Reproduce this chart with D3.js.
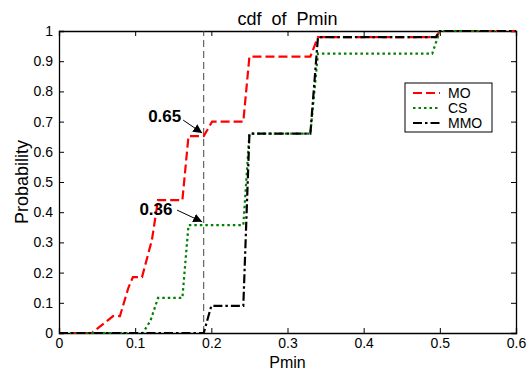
<!DOCTYPE html>
<html>
<head>
<meta charset="utf-8">
<script src="https://cdn.jsdelivr.net/npm/d3@7"></script>
<style>
  body { margin: 0; background: #fff; }
  text { font-family: "Liberation Sans", Arial, sans-serif; }
</style>
</head>
<body>
<svg id="chart"></svg>
<script>
// data
const moX = [0, 0.043, 0.071, 0.08, 0.091, 0.097, 0.109, 0.122, 0.13, 0.162, 0.17, 0.19, 0.201, 0.242, 0.25, 0.33, 0.34, 0.495, 0.5, 0.6];
const moY = [0, 0, 0.056, 0.056, 0.149, 0.185, 0.185, 0.308, 0.44, 0.44, 0.652, 0.652, 0.70, 0.70, 0.915, 0.915, 0.98, 0.98, 1, 1];
const csX = [0, 0.11, 0.12, 0.13, 0.162, 0.17, 0.242, 0.25, 0.33, 0.34, 0.49, 0.5, 0.6];
const csY = [0, 0, 0.04, 0.116, 0.116, 0.357, 0.357, 0.66, 0.66, 0.925, 0.925, 1, 1];
const mmoX = [0, 0.19, 0.2, 0.242, 0.25, 0.33, 0.34, 0.495, 0.5, 0.6];
const mmoY = [0, 0, 0.09, 0.09, 0.66, 0.66, 0.98, 0.98, 1, 1];
const seriesNames = ["MO", "CS", "MMO"];
const xTicks = [0, 0.1, 0.2, 0.3, 0.4, 0.5, 0.6];
const yTicks = [0, 0.1, 0.2, 0.3, 0.4, 0.5, 0.6, 0.7, 0.8, 0.9, 1];
const markX = 0.19;
const notes = [
  { label: "0.65", tx: 0.1605, ty: 0.70, ax: 0.163, ay: 0.705, bx: 0.188, by: 0.662 },
  { label: "0.36", tx: 0.149, ty: 0.39, ax: 0.155, ay: 0.407, bx: 0.188, by: 0.368 }
];

const W = 531, H = 371;
const margin = { top: 31, right: 15, bottom: 38, left: 59 };
const width = W - margin.left - margin.right;
const height = H - margin.top - margin.bottom;

const svg = d3.select("#chart").attr("width", W).attr("height", H);

svg.append("defs").append("marker")
  .attr("id", "arrow")
  .attr("viewBox", "0 0 10 10")
  .attr("refX", 10).attr("refY", 5)
  .attr("markerWidth", 9).attr("markerHeight", 9)
  .attr("markerUnits", "userSpaceOnUse")
  .attr("orient", "auto")
  .append("path").attr("d", "M0,0 L10,5 L0,10 Z").attr("fill", "#000");

const g = svg.append("g").attr("transform", `translate(${margin.left},${margin.top})`);

const x = d3.scaleLinear().domain([0, 0.6]).range([0, width]);
const y = d3.scaleLinear().domain([0, 1]).range([height, 0]);

// box + inward ticks
const fmt = d => (d === 0 || d === 1) ? String(d) : d.toFixed(1);
g.append("g").attr("transform", `translate(0,${height})`)
  .call(d3.axisBottom(x).tickValues(xTicks).tickSize(-5).tickPadding(5).tickFormat(fmt));
g.append("g")
  .call(d3.axisLeft(y).tickValues(yTicks).tickSize(-5).tickPadding(6).tickFormat(fmt));
g.append("g").call(d3.axisTop(x).tickValues(xTicks).tickSize(-5).tickFormat(""));
g.append("g").attr("transform", `translate(${width},0)`)
  .call(d3.axisRight(y).tickValues(yTicks).tickSize(-5).tickFormat(""));
g.selectAll(".domain").attr("stroke", "#000").attr("stroke-width", 1.3);
g.selectAll(".tick line").attr("stroke", "#000");
g.selectAll(".tick text").style("font-size", "14px").attr("fill", "#000");

// reference line
g.append("line")
  .attr("x1", x(markX)).attr("x2", x(markX))
  .attr("y1", y(0)).attr("y2", y(1))
  .attr("stroke", "#444").attr("stroke-width", 1)
  .attr("stroke-dasharray", "7,4");

const line = d3.line().x(d => x(d[0])).y(d => y(d[1]));
const series = [
  { name: "MO", pts: d3.zip(moX, moY), color: "#ff0000", dash: "9,4" },
  { name: "CS", pts: d3.zip(csX, csY), color: "#008000", dash: "2.5,3" },
  { name: "MMO", pts: d3.zip(mmoX, mmoY), color: "#000000", dash: "9,3,2.5,3" }
];

series.forEach(s => {
  g.append("path")
    .datum(s.pts)
    .attr("d", line)
    .attr("fill", "none")
    .attr("stroke", s.color)
    .attr("stroke-width", 2.2)
    .attr("stroke-dasharray", s.dash);
});

// annotations
notes.forEach(n => {
  g.append("text")
    .attr("x", x(n.tx)).attr("y", y(n.ty))
    .attr("text-anchor", "end")
    .style("font-size", "17px").style("font-weight", "bold")
    .text(n.label);
  g.append("line")
    .attr("x1", x(n.ax)).attr("y1", y(n.ay))
    .attr("x2", x(n.bx)).attr("y2", y(n.by))
    .attr("stroke", "#000").attr("stroke-width", 1)
    .attr("marker-end", "url(#arrow)");
});

// legend
const legend = svg.append("g").attr("transform", "translate(405,83)");
legend.append("rect")
  .attr("width", 87).attr("height", 49)
  .attr("fill", "#fff").attr("stroke", "#000").attr("stroke-width", 1);
series.forEach((s, i) => {
  const ly = 10 + i * 15;
  legend.append("line")
    .attr("x1", 8).attr("x2", 35).attr("y1", ly).attr("y2", ly)
    .attr("stroke", s.color).attr("stroke-width", 2.2)
    .attr("stroke-dasharray", s.dash);
  legend.append("text")
    .attr("x", 43).attr("y", ly + 5)
    .style("font-size", "14px")
    .text(s.name);
});

// titles
svg.append("text")
  .attr("x", margin.left + width / 2).attr("y", 25)
  .attr("text-anchor", "middle")
  .style("font-size", "18px").style("white-space", "pre")
  .text("cdf  of  Pmin");
svg.append("text")
  .attr("x", margin.left + width / 2).attr("y", 368)
  .attr("text-anchor", "middle")
  .style("font-size", "16px")
  .text("Pmin");
svg.append("text")
  .attr("transform", `translate(28,${margin.top + height / 2}) rotate(-90)`)
  .attr("text-anchor", "middle")
  .style("font-size", "18px")
  .text("Probability");
</script>
</body>
</html>
